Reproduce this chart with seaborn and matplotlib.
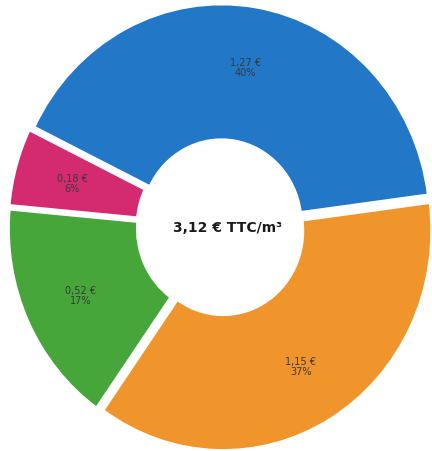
import matplotlib
matplotlib.use("Agg")
import matplotlib.pyplot as plt
import seaborn as sns

# prix de l'eau, décomposition (€ TTC / m3)
categories = ["bleu", "orange", "vert", "rose"]
values = [1.27, 1.15, 0.52, 0.18]
percents = [40, 37, 17, 6]
total_label = "3,12 € TTC/m³"

colors = ["#2277c6", "#ef952b", "#47a63a", "#d42a70"]

sns.set_theme(style="white")
plt.rcParams["font.family"] = ["DejaVu Sans"]

fig = plt.figure(figsize=(4.32, 4.52), dpi=100)
ax = fig.add_axes([0, 0, 1, 1])

labels = [f"{v:.2f} €".replace(".", ",") + f"\n{p}%" for v, p in zip(values, percents)]
label_iter = iter(labels)

wedges, _, autotexts = ax.pie(
    values,
    colors=sns.color_palette(colors),
    startangle=154,
    counterclock=False,
    explode=[0.015, 0.02, 0.02, 0.02],
    wedgeprops=dict(width=0.62, edgecolor="white", linewidth=2.5),
    autopct=lambda pct: next(label_iter),
    pctdistance=0.72,
    textprops=dict(fontsize=7, color="#3a3a3a"),
)
for t in autotexts:
    t.set_linespacing(1.0)

ax.text(0.03, 0.0, total_label, ha="center", va="center",
        fontsize=10, fontweight="bold", color="#1a1a1a")

# the source is slightly taller than wide
ax.set_aspect("auto")
ax.set_xlim(-1.057, 1.010)
ax.set_ylim(-1.018, 1.036)
ax.axis("off")

fig.savefig("out.png", dpi=100)
